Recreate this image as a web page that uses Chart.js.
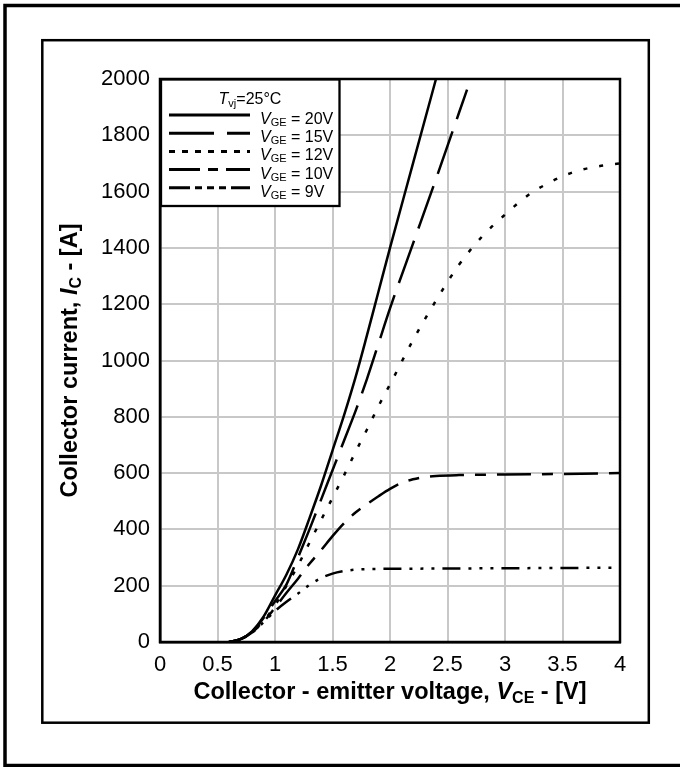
<!DOCTYPE html>
<html>
<head>
<meta charset="utf-8">
<script src="https://cdn.jsdelivr.net/npm/chart.js@4.4.1/dist/chart.umd.min.js"></script>
<style>
  html, body { margin: 0; padding: 0; background: #fff; overflow: hidden; }
  canvas { display: block; }
</style>
</head>
<body>
<canvas id="outputChart" width="680" height="767"></canvas>
<script>
// Output characteristic, Tvj = 25 C
const vce20 = [0.6, 0.7, 0.8, 0.9, 1.0, 1.1, 1.2, 1.3, 1.4, 1.5, 1.6, 1.7, 1.8, 1.9, 2.0, 2.2, 2.4];
const ic20 = [0, 10, 38, 90, 165, 240, 330, 440, 555, 680, 805, 940, 1090, 1245, 1400, 1700, 2000];

const vce15 = [0.6, 0.7, 0.8, 0.9, 1.0, 1.1, 1.2, 1.3, 1.4, 1.5, 1.6, 1.7, 1.8, 1.9, 2.0, 2.2, 2.4, 2.6, 2.67];
const ic15 = [0, 10, 36, 85, 145, 205, 300, 400, 505, 610, 715, 820, 935, 1060, 1185, 1415, 1645, 1880, 1962];

const vce12 = [0.6, 0.7, 0.8, 0.9, 1.0, 1.1, 1.2, 1.3, 1.4, 1.5, 1.6, 1.7, 1.8, 1.9, 2.0, 2.2, 2.4, 2.6, 2.8, 3.0, 3.2, 3.4, 3.6, 3.8, 4.0];
const ic12 = [0, 10, 35, 75, 130, 200, 272, 353, 433, 512, 592, 675, 755, 838, 915, 1072, 1213, 1340, 1440, 1518, 1587, 1635, 1670, 1689, 1700];

const vce10 = [0.6, 0.7, 0.8, 0.9, 1.0, 1.1, 1.2, 1.3, 1.4, 1.5, 1.6, 1.7, 1.8, 1.9, 2.0, 2.1, 2.2, 2.3, 2.4, 2.6, 3.0, 3.5, 4.0];
const ic10 = [0, 10, 34, 72, 122, 175, 225, 278, 326, 376, 422, 460, 490, 518, 544, 565, 578, 586, 590, 593, 595, 597, 600];

const vce9 = [0.6, 0.7, 0.8, 0.9, 1.0, 1.1, 1.2, 1.3, 1.4, 1.5, 1.6, 1.7, 1.8, 2.0, 2.5, 3.0, 3.5, 4.0];
const ic9 = [0, 10, 33, 70, 110, 143, 172, 203, 227, 243, 252, 257, 259, 260, 261, 262, 263, 264];

const seriesNames = ["20V", "15V", "12V", "10V", "9V"];
const xTickLabels = ["0", "0.5", "1", "1.5", "2", "2.5", "3", "3.5", "4"];
const yTickLabels = ["0", "200", "400", "600", "800", "1000", "1200", "1400", "1600", "1800", "2000"];

const FONT = "'Liberation Sans', Arial, Helvetica, sans-serif";

function toPoints(xs, ys) {
  return xs.map((x, i) => ({ x: x, y: ys[i] }));
}

// draw text made of pieces with different fonts, optionally centred on x
function drawParts(ctx, parts, x, y, centre) {
  let w = 0;
  parts.forEach((p) => { ctx.font = p[1]; w += ctx.measureText(p[0]).width; });
  let cx = centre ? x - w / 2 : x;
  parts.forEach((p) => {
    ctx.font = p[1];
    ctx.fillText(p[0], cx, y + (p[2] || 0));
    cx += ctx.measureText(p[0]).width;
  });
}

const legendDash = [[], [45, 13], [6, 7], [31, 8, 10, 8], [21, 5, 7, 5, 7, 5, 7, 5]];

const decorPlugin = {
  id: "decor",
  beforeDraw(chart) {
    const ctx = chart.ctx;
    ctx.save();
    ctx.fillStyle = "#fff";
    ctx.fillRect(0, 0, chart.width, chart.height);
    ctx.strokeStyle = "#000";
    ctx.lineWidth = 3.5;
    ctx.strokeRect(5, 5.5, 700, 760);
    ctx.lineWidth = 2.5;
    ctx.strokeRect(42.3, 40.2, 606.5, 682.5);
    ctx.restore();
  },
  afterDraw(chart) {
    const ctx = chart.ctx;
    const a = chart.chartArea;
    ctx.save();
    // plot frame
    ctx.strokeStyle = "#000";
    ctx.lineWidth = 2.5;
    ctx.strokeRect(a.left, a.top, a.right - a.left, a.bottom - a.top);

    // legend box
    ctx.fillStyle = "#fff";
    ctx.fillRect(161, 79.5, 178.5, 126.5);
    ctx.lineWidth = 2.3;
    ctx.strokeRect(161, 79.5, 178.5, 126.5);

    ctx.fillStyle = "#000";
    ctx.textAlign = "left";
    ctx.textBaseline = "alphabetic";
    drawParts(ctx, [
      ["T", "italic 16px " + FONT],
      ["vj", "11px " + FONT, 3],
      ["=25\u00b0C", "16px " + FONT]
    ], 250, 104, true);

    chart.data.datasets.forEach((ds, i) => {
      const ly = 115 + i * 18.2;
      ctx.strokeStyle = "#000";
      ctx.lineWidth = 3;
      ctx.setLineDash(legendDash[i]);
      ctx.beginPath();
      ctx.moveTo(169, ly);
      ctx.lineTo(250, ly);
      ctx.stroke();
      ctx.setLineDash([]);
      drawParts(ctx, [
        ["V", "italic 16px " + FONT],
        ["GE", "11px " + FONT, 2],
        [" = " + seriesNames[i], "16px " + FONT]
      ], 260, ly + 9, false);
    });

    // axis titles
    drawParts(ctx, [
      ["Collector - emitter voltage, ", "bold 23.5px " + FONT],
      ["V", "bold italic 23.5px " + FONT],
      ["CE", "bold 16px " + FONT, 4],
      [" - [V]", "bold 23.5px " + FONT]
    ], (a.left + a.right) / 2, 699, true);

    ctx.translate(77, (a.top + a.bottom) / 2);
    ctx.rotate(-Math.PI / 2);
    drawParts(ctx, [
      ["Collector current, ", "bold 23.5px " + FONT],
      ["I", "bold italic 23.5px " + FONT],
      ["C", "bold 16px " + FONT, 4],
      [" - [A]", "bold 23.5px " + FONT]
    ], 0, 0, true);
    ctx.restore();
  }
};

const lineDashes = [[], [45, 13], [4, 12], [34, 11, 11, 11], [18, 8, 3, 8, 3, 8, 3, 8]];
const xs = [vce20, vce15, vce12, vce10, vce9];
const ys = [ic20, ic15, ic12, ic10, ic9];

const ctx = document.getElementById("outputChart").getContext("2d");
const outputChart = new Chart(ctx, {
  type: "line",
  data: {
    datasets: seriesNames.map((name, i) => ({
      label: "VGE = " + name,
      data: toPoints(xs[i], ys[i]),
      borderColor: "#000",
      borderWidth: 2.5,
      borderDash: lineDashes[i],
      borderCapStyle: "butt",
      pointRadius: 0,
      fill: false,
      cubicInterpolationMode: "monotone",
    })),
  },
  options: {
    responsive: false,
    animation: false,
    layout: { padding: { left: 0, top: 79, right: 60, bottom: 0 } },
    plugins: {
      legend: { display: false },
      tooltip: { enabled: false },
    },
    scales: {
      x: {
        type: "linear",
        min: 0,
        max: 4,
        afterFit: (scale) => { scale.height = 125; },
        ticks: {
          stepSize: 0.5,
          padding: 10,
          color: "#000",
          font: { family: FONT, size: 22 },
          callback: (v, i) => xTickLabels[i],
        },
        grid: { color: "#c8c8c8", lineWidth: 2, drawTicks: false },
        border: { display: true, color: "#000", width: 2.5 },
      },
      y: {
        type: "linear",
        min: 0,
        max: 2000,
        afterFit: (scale) => { scale.width = 160; },
        ticks: {
          stepSize: 200,
          padding: 10,
          color: "#000",
          font: { family: FONT, size: 22 },
          callback: (v, i) => yTickLabels[i],
        },
        grid: { color: "#c8c8c8", lineWidth: 2, drawTicks: false },
        border: { display: true, color: "#000", width: 2.5 },
      },
    },
  },
  plugins: [decorPlugin],
});
</script>
</body>
</html>
